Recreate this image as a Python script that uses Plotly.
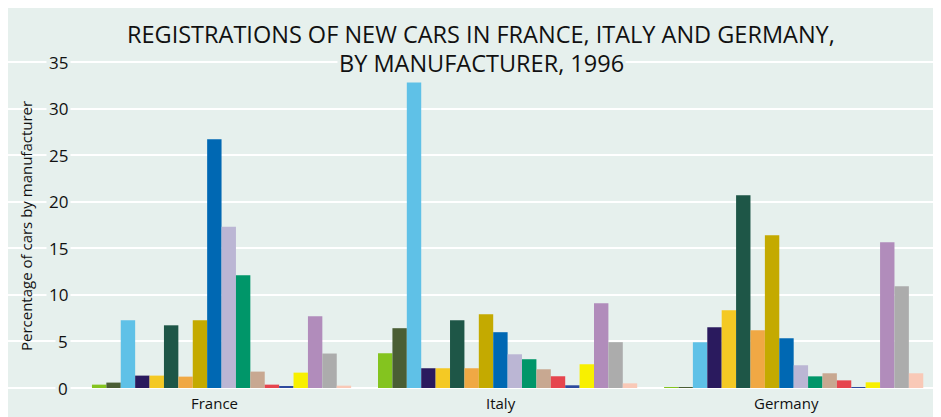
import plotly.graph_objects as go

countries = ["France", "Italy", "Germany"]
manufacturers = [f"Manufacturer {i}" for i in range(1, 19)]

# Percentage of new-car registrations per manufacturer (18 manufacturers)
france = [0.36, 0.58, 7.27, 1.33, 1.33, 6.73, 1.22, 7.27, 26.7, 17.3, 12.1, 1.76, 0.36, 0.14, 1.65, 7.7, 3.7, 0.25]
italy = [3.73, 6.42, 32.8, 2.12, 2.12, 7.28, 2.12, 7.93, 5.99, 3.62, 3.09, 2.01, 1.26, 0.29, 2.55, 9.11, 4.92, 0.50]
germany = [0.05, 0.05, 4.91, 6.52, 8.35, 20.7, 6.2, 16.4, 5.34, 2.44, 1.25, 1.58, 0.82, 0.07, 0.61, 15.66, 10.93, 1.58]

y_ticks = [0, 5, 10, 15, 20, 25, 30, 35]

title_line1 = "REGISTRATIONS OF NEW CARS IN FRANCE, ITALY AND GERMANY,"
title_line2 = "BY MANUFACTURER, 1996"
y_title = "Percentage of cars by manufacturer"

colors = ["#84c41f", "#4a5e34", "#5fc1e7", "#2a1a5e", "#f4c924", "#1e5647",
          "#f0a844", "#c4aa00", "#0068b3", "#bbb6d4", "#009669", "#c8a891",
          "#e6454e", "#2e4a9e", "#f8f000", "#b18cbb", "#acacac", "#f9c9b7"]

BG = "#e6f0ed"
FONT = "Open Sans"
TXT = "#111111"

fig = go.Figure()
for i, name in enumerate(manufacturers):
    fig.add_trace(go.Bar(
        x=countries,
        y=[france[i], italy[i], germany[i]],
        name=name,
        marker=dict(color=colors[i], line=dict(width=0)),
        showlegend=False,
        hoverinfo="x+y+name",
    ))

annotations = []
# y tick labels (with background so gridlines break around them)
for t in y_ticks:
    annotations.append(dict(
        x=0.0675, xref="paper", y=t, yref="y", text=str(t),
        xanchor="right", yanchor="middle", showarrow=False,
        font=dict(family=FONT, size=17, color=TXT),
        bgcolor=BG, borderpad=2,
    ))
# x category labels
for c in countries:
    annotations.append(dict(
        x=c, xref="x", y=-1.61, yref="y", text=c, xshift=-7,
        xanchor="center", yanchor="middle", showarrow=False,
        font=dict(family=FONT, size=15, color=TXT),
    ))
# y-axis title
annotations.append(dict(
    x=0.0193, xref="paper", y=17.39, yref="y", text=y_title,
    textangle=-90, xanchor="center", yanchor="middle", showarrow=False,
    font=dict(family=FONT, size=15, color=TXT),
))
# title (two lines)
annotations.append(dict(
    x=0.5075, xref="paper", y=0.9369, yref="paper",
    text=title_line1, xanchor="center", yanchor="middle", showarrow=False,
    font=dict(family=FONT, size=23.5, color=TXT),
))
annotations.append(dict(
    x=0.5075, xref="paper", y=0.8663, yref="paper",
    text=title_line2, xanchor="center", yanchor="middle", showarrow=False,
    font=dict(family=FONT, size=23.5, color=TXT),
    bgcolor=BG, borderpad=1,
))

fig.update_layout(
    width=933, height=409, autosize=False,
    margin=dict(l=0, r=0, t=0, b=0, pad=0),
    paper_bgcolor="white",
    plot_bgcolor=BG,
    barmode="group",
    bargap=0.094,
    bargroupgap=0,
    annotations=annotations,
    font=dict(family=FONT),
)
fig.update_xaxes(
    range=[-0.7465, 2.515], showgrid=False, showticklabels=False,
    zeroline=False, showline=False, ticks="",
)
fig.update_yaxes(
    range=[-3.114, 40.798], tickvals=y_ticks, showticklabels=False,
    showgrid=True, gridcolor="white", gridwidth=1.5,
    zeroline=False, showline=False, ticks="",
)

fig.write_html("out.html")
